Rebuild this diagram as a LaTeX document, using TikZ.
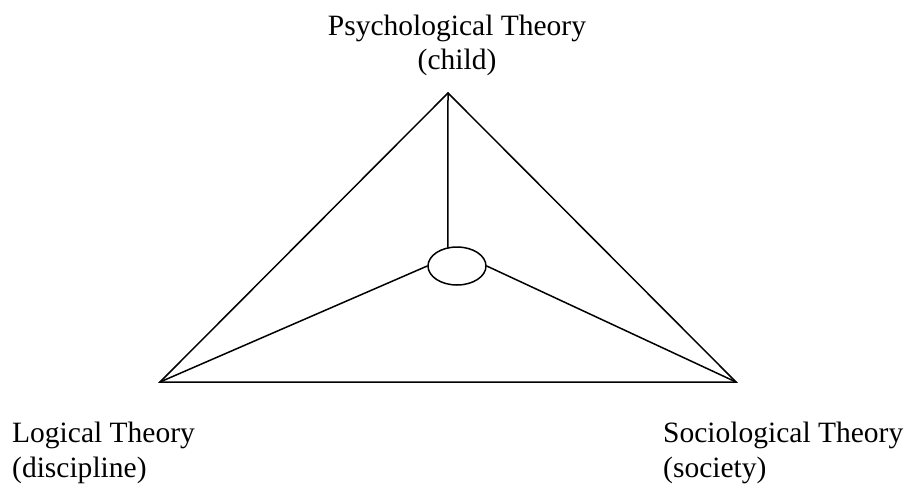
\documentclass[tikz,border=0pt]{standalone}
\usepackage{fontspec}
\setmainfont{Liberation Serif}
\usetikzlibrary{shapes.geometric}
\begin{document}
\begin{tikzpicture}[x=1pt,y=-1pt,
  edge/.style={line width=1.5pt, line cap=round, line join=miter},
  lbl/.style={inner sep=0pt, font=\fontsize{29.5}{35}\selectfont},
  hub/.style={ellipse, draw, line width=1.5pt, minimum width=58pt, minimum height=38pt, inner sep=0pt}]
\useasboundingbox (0,0) rectangle (909,485);
\coordinate (top) at (448,93);
\coordinate (bl) at (160,382);
\coordinate (br) at (736,382);
\node[hub] (ell) at (457,266) {};
\draw[edge] (bl) -- (top) -- (br) -- cycle;
\draw[edge] (top) -- (ell.116.6);
\draw[edge] (bl) -- (ell.west);
\draw[edge] (br) -- (ell.east);
\node[lbl, anchor=base] (p1) at (457,35) {Psychological Theory};
\node[lbl, anchor=base] (p2) at (457,69) {(child)};
\node[lbl, anchor=base west] (l1) at (12,442) {Logical Theory};
\node[lbl, anchor=base west] (l2) at (12,477) {(discipline)};
\node[lbl, anchor=base west] (s1) at (663,442) {Sociological Theory};
\node[lbl, anchor=base west] (s2) at (663,477) {(society)};
\end{tikzpicture}
\end{document}
